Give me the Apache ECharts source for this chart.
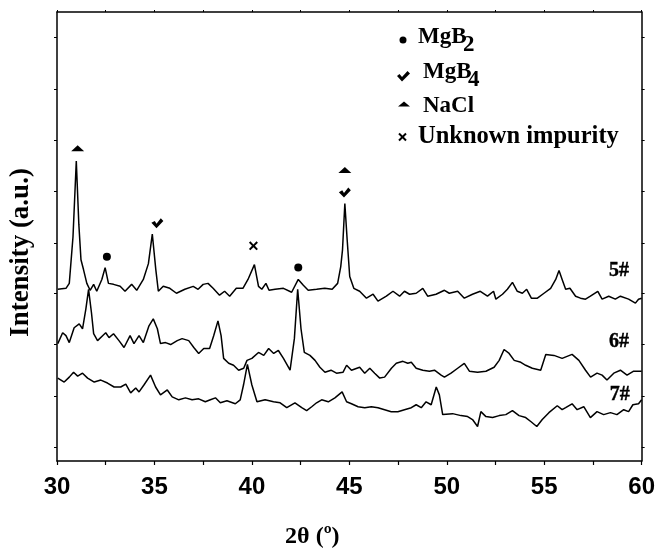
<!DOCTYPE html>
<html lang="en">

<head>
    <meta charset="UTF-8">
    <title>XRD 5# 6# 7#</title>
    <style>
        body {
            margin: 0;
            overflow: hidden;
            background: #fff;
        }

        #chart {
            width: 658px;
            height: 554px;
        }
    </style>
</head>

<body>
    <div id="chart"></div>
    <script type="text/javascript" src="https://cdn.jsdelivr.net/npm/echarts@6/dist/echarts.min.js"></script>
    <script type="text/javascript">
        // 2theta (deg), intensity (a.u.)
        var pattern5 = [
            [30.04, 174], [30.46, 175], [30.63, 180], [30.68, 181], [30.82, 227], [30.99, 304], [31.12, 240],
            [31.23, 204], [31.36, 194], [31.53, 180], [31.70, 173], [31.88, 179], [32.04, 172], [32.30, 184],
            [32.47, 196], [32.64, 180], [32.90, 179], [33.24, 177], [33.49, 172], [33.83, 179], [34.09, 173],
            [34.43, 184], [34.69, 200], [34.89, 230], [35.07, 194], [35.20, 172], [35.45, 177], [35.79, 175],
            [36.13, 170], [36.56, 174], [36.99, 177], [37.24, 174], [37.50, 179], [37.75, 180], [38.01, 175],
            [38.34, 168], [38.60, 172], [38.86, 167], [39.20, 175], [39.54, 175], [39.80, 184], [40.13, 199],
            [40.34, 177], [40.51, 174], [40.72, 180], [40.88, 173], [41.19, 174], [41.62, 175], [42.04, 171],
            [42.38, 184], [42.64, 178], [42.89, 173], [43.32, 174], [43.74, 175], [44.12, 174], [44.40, 180],
            [44.56, 197], [44.65, 214], [44.77, 261], [44.89, 224], [45.02, 187], [45.23, 175], [45.53, 172],
            [45.88, 165], [46.22, 169], [46.47, 162], [46.90, 167], [47.24, 172], [47.58, 167], [47.83, 172],
            [48.09, 169], [48.43, 170], [48.77, 175], [49.02, 167], [49.45, 169], [49.88, 173], [50.13, 170],
            [50.56, 172], [50.90, 165], [51.32, 169], [51.72, 172], [52.09, 167], [52.40, 172], [52.52, 164],
            [52.86, 169], [53.11, 174], [53.37, 181], [53.62, 172], [53.88, 170], [54.10, 174], [54.34, 165],
            [54.65, 165], [54.99, 170], [55.33, 175], [55.59, 184], [55.76, 193], [55.92, 184], [56.10, 174],
            [56.32, 175], [56.61, 167], [56.86, 165], [57.12, 164], [57.37, 167], [57.75, 172], [57.97, 164],
            [58.31, 167], [58.65, 164], [58.91, 167], [59.33, 164], [59.68, 160], [59.84, 164], [60.00, 165]
        ];

        var pattern6 = [
            [30.04, 119], [30.29, 130], [30.46, 127], [30.63, 120], [30.88, 135], [31.14, 139], [31.31, 134],
            [31.48, 154], [31.62, 174], [31.77, 150], [31.88, 129], [32.08, 122], [32.34, 127], [32.50, 130],
            [32.67, 125], [32.90, 129], [33.18, 122], [33.44, 115], [33.75, 127], [33.95, 119], [34.21, 127],
            [34.43, 120], [34.72, 137], [34.94, 144], [35.15, 134], [35.31, 119], [35.57, 120], [35.83, 118],
            [36.17, 122], [36.42, 124], [36.76, 122], [37.02, 115], [37.27, 109], [37.53, 114], [37.83, 114],
            [38.04, 127], [38.26, 142], [38.42, 127], [38.55, 104], [38.81, 99], [39.06, 97], [39.32, 92],
            [39.58, 94], [39.75, 102], [40.00, 104], [40.34, 110], [40.61, 107], [40.86, 114], [41.12, 109],
            [41.36, 112], [41.62, 104], [41.96, 92], [42.18, 124], [42.35, 174], [42.52, 134], [42.69, 110],
            [42.98, 107], [43.24, 102], [43.49, 95], [43.75, 90], [44.06, 92], [44.34, 89], [44.68, 90],
            [44.86, 97], [45.11, 92], [45.53, 95], [45.79, 89], [46.05, 94], [46.30, 89], [46.56, 84],
            [46.81, 85], [47.16, 94], [47.41, 99], [47.75, 101], [48.00, 99], [48.18, 100], [48.43, 94],
            [48.77, 92], [49.11, 91], [49.37, 92], [49.71, 87], [49.88, 85], [50.22, 89], [50.56, 94],
            [50.90, 99], [51.16, 91], [51.58, 90], [52.01, 91], [52.43, 95], [52.69, 102], [52.94, 113],
            [53.20, 109], [53.46, 102], [53.80, 100], [54.05, 97], [54.39, 94], [54.82, 92], [55.08, 108],
            [55.50, 107], [55.92, 104], [56.43, 108], [56.78, 102], [57.12, 92], [57.38, 85], [57.71, 89],
            [57.97, 87], [58.22, 82], [58.57, 89], [58.91, 92], [59.25, 87], [59.59, 91], [59.93, 91], [60.00, 91]
        ];

        var pattern7 = [
            [30.04, 84], [30.37, 80], [30.63, 85], [30.85, 90], [31.06, 86], [31.31, 89], [31.57, 84],
            [31.91, 80], [32.25, 82], [32.59, 79], [32.93, 75], [33.27, 75], [33.53, 78], [33.78, 69],
            [34.04, 74], [34.21, 70], [34.46, 77], [34.80, 87], [35.06, 75], [35.31, 67], [35.66, 72],
            [35.91, 65], [36.25, 62], [36.59, 64], [36.93, 62], [37.27, 63], [37.61, 60], [37.87, 62],
            [38.13, 64], [38.38, 59], [38.72, 61], [39.15, 58], [39.40, 62], [39.57, 77], [39.77, 98],
            [40.00, 77], [40.26, 60], [40.68, 62], [41.11, 60], [41.45, 59], [41.79, 54], [42.21, 59],
            [42.56, 54], [42.81, 51], [43.07, 55], [43.32, 59], [43.58, 62], [43.92, 60], [44.26, 64],
            [44.63, 70], [44.86, 60], [45.11, 58], [45.45, 55], [45.79, 54], [46.13, 55], [46.47, 54],
            [46.81, 52], [47.15, 50], [47.49, 50], [47.83, 52], [48.18, 54], [48.43, 57], [48.69, 54],
            [48.94, 60], [49.20, 57], [49.46, 75], [49.62, 67], [49.79, 47], [50.30, 48], [50.73, 46],
            [51.07, 45], [51.32, 42], [51.58, 35], [51.75, 50], [52.01, 45], [52.35, 44], [52.69, 46],
            [53.03, 47], [53.37, 51], [53.71, 46], [54.05, 44], [54.31, 40], [54.62, 35], [54.90, 42],
            [55.24, 49], [55.67, 56], [55.92, 52], [56.10, 54], [56.43, 58], [56.69, 52], [57.03, 55],
            [57.37, 44], [57.71, 50], [58.05, 47], [58.40, 49], [58.73, 47], [59.08, 52], [59.33, 50],
            [59.55, 57], [59.84, 58], [60.00, 62]
        ];

        // phase markers above the peaks
        var mgb2Marks = [[32.56, 207], [42.38, 196]];
        var mgb4Marks = [[35.15, 241], [44.77, 272]];
        var naclMarks = [[31.06, 317], [44.77, 295]];
        var unknownMarks = [[40.08, 218]];

        // sample labels on the right
        var sampleLabels = [[58.84, 193, '5#'], [58.84, 121, '6#'], [58.87, 67, '7#']];

        var yTicks = [14, 66, 118, 170, 221, 273, 325, 377, 429];

        var checkPath = 'path://M0,5 L4,3 L6,6 L11,0 L14,3 L6,11 Z';
        var crossPath = 'path://M0,1.6 L1.6,0 L5,3.4 L8.4,0 L10,1.6 L6.6,5 L10,8.4 L8.4,10 L5,6.6 L1.6,10 L0,8.4 L3.4,5 Z';

        var serif = '"Liberation Serif", "Times New Roman", serif';
        var sans = '"Liberation Sans", Arial, sans-serif';
        var legendFont = 'bold 23px "Liberation Serif", "Times New Roman", serif';

        var myChart = echarts.init(document.getElementById('chart'));

        function lineSeries(name, data) {
            return {
                name: name,
                type: 'line',
                data: data,
                symbol: 'none',
                silent: true,
                lineStyle: { color: '#000', width: 1.5 },
                z: 2
            };
        }

        function markSeries(name, data, symbol, size) {
            return {
                name: name,
                type: 'scatter',
                data: data,
                symbol: symbol,
                symbolSize: size,
                itemStyle: { color: '#000', opacity: 1 },
                z: 3
            };
        }

        function legendText(x, y, text) {
            return {
                type: 'text',
                x: x,
                y: y,
                style: { text: text, font: legendFont, fill: '#000', verticalAlign: 'middle' }
            };
        }

        var option = {
            animation: false,
            backgroundColor: '#fff',
            grid: { left: 56, top: 12, right: 15, bottom: 87 },
            xAxis: [{
                type: 'value',
                min: 30,
                max: 60,
                interval: 2.5,
                name: '2θ (º)',
                nameLocation: 'middle',
                nameGap: 64,
                nameTextStyle: {
                    color: '#000', fontFamily: serif, fontWeight: 'bold', fontSize: 24,
                    padding: [0, 74, 0, 0]
                },
                axisLine: { onZero: false, lineStyle: { color: '#000', width: 1.5 } },
                axisTick: { inside: false, length: 4, lineStyle: { color: '#000', width: 1.2 } },
                axisLabel: {
                    margin: 14,
                    color: '#000',
                    fontFamily: sans,
                    fontWeight: 'bold',
                    fontSize: 24,
                    formatter: function (v) { return v % 5 === 0 ? String(v) : ''; }
                },
                splitLine: { show: false }
            }, {
                type: 'value',
                position: 'top',
                min: 30,
                max: 60,
                interval: 2.5,
                axisLine: { onZero: false, lineStyle: { color: '#000', width: 1.5 } },
                axisTick: { inside: false, length: 2, lineStyle: { color: '#000', width: 1 } },
                axisLabel: { show: false },
                splitLine: { show: false }
            }],
            yAxis: [{
                type: 'value',
                min: 0,
                max: 455,
                name: 'Intensity (a.u.)',
                nameLocation: 'middle',
                nameGap: 22,
                nameTextStyle: {
                    color: '#000', fontFamily: serif, fontWeight: 'bold', fontSize: 27,
                    padding: [0, 32, 0, 0]
                },
                axisLine: { onZero: false, lineStyle: { color: '#000', width: 1.5 } },
                axisTick: { inside: false, length: 3, customValues: yTicks, lineStyle: { color: '#000', width: 1 } },
                axisLabel: { show: false },
                splitLine: { show: false }
            }, {
                type: 'value',
                position: 'right',
                min: 0,
                max: 455,
                axisLine: { onZero: false, lineStyle: { color: '#000', width: 1.5 } },
                axisTick: { inside: false, length: 3, customValues: yTicks, lineStyle: { color: '#000', width: 1 } },
                axisLabel: { show: false },
                splitLine: { show: false }
            }],
            graphic: [
                // legend, drawn by hand so the subscripts sit low like the original
                { type: 'circle', shape: { cx: 403, cy: 40, r: 3.5 }, style: { fill: '#000' } },
                legendText(418, 37, 'MgB'),
                legendText(463, 45, '2'),
                {
                    type: 'polygon',
                    shape: { points: [[397, 76], [399.5, 74], [402, 77], [407.5, 71], [410, 73.5], [402, 81.5]] },
                    style: { fill: '#000' }
                },
                legendText(423, 72, 'MgB'),
                legendText(468, 80, '4'),
                {
                    type: 'polygon',
                    shape: { points: [[398, 106.5], [404, 101.5], [410, 106.5]] },
                    style: { fill: '#000' }
                },
                legendText(423, 106, 'NaCl'),
                { type: 'line', shape: { x1: 399, y1: 133.5, x2: 406, y2: 140.5 }, style: { stroke: '#000', lineWidth: 2 } },
                { type: 'line', shape: { x1: 406, y1: 133.5, x2: 399, y2: 140.5 }, style: { stroke: '#000', lineWidth: 2 } },
                {
                    type: 'text',
                    x: 418,
                    y: 137,
                    style: {
                        text: 'Unknown impurity',
                        font: 'bold 24.5px "Liberation Serif", "Times New Roman", serif',
                        fill: '#000',
                        verticalAlign: 'middle'
                    }
                }
            ],
            series: [
                lineSeries('5#', pattern5),
                lineSeries('6#', pattern6),
                lineSeries('7#', pattern7),
                markSeries('MgB2', mgb2Marks, 'circle', 8),
                markSeries('MgB4', mgb4Marks, checkPath, [12, 10]),
                markSeries('NaCl', naclMarks, 'triangle', [13, 6]),
                markSeries('Unknown impurity', unknownMarks, crossPath, [9, 9]),
                {
                    name: 'labels',
                    type: 'scatter',
                    symbol: 'circle',
                    symbolSize: 1,
                    silent: true,
                    z: 4,
                    itemStyle: { color: 'rgba(0,0,0,0)' },
                    data: sampleLabels,
                    label: {
                        show: true,
                        position: 'inside',
                        formatter: function (p) { return p.value[2]; },
                        color: '#000',
                        opacity: 1,
                        textBorderColor: '#000',
                        textBorderWidth: 0.4,
                        fontFamily: serif,
                        fontWeight: 'bold',
                        fontSize: 20
                    }
                }
            ]
        };

        myChart.setOption(option);
    </script>
</body>

</html>
